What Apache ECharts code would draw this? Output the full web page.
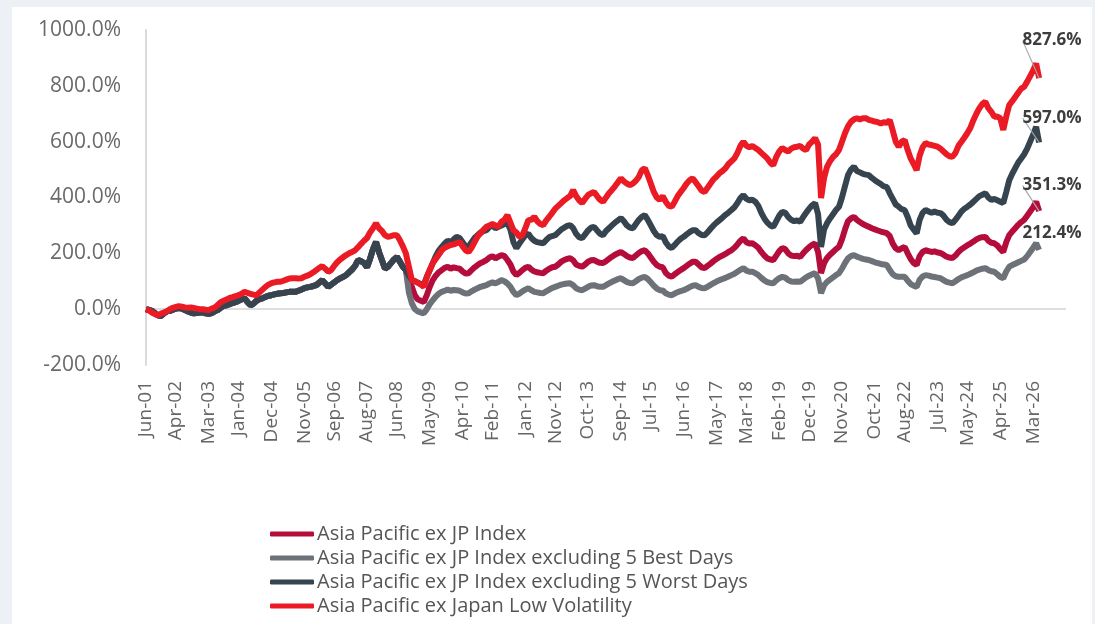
<!DOCTYPE html>
<html>
<head>
<meta charset="utf-8">
<title>Asia Pacific ex JP</title>
<script src="https://cdn.jsdelivr.net/npm/echarts@6/dist/echarts.min.js"></script>
<style>
    html, body { margin: 0; padding: 0; background: #edf0f4; }
    .panel { position: absolute; left: 12px; top: 7px; width: 1080px; height: 617px; background: #fff; }
    #chart { position: absolute; left: 0; top: 0; width: 1095px; height: 624px; }
</style>
</head>
<body>
<div class="panel"></div>
<div id="chart"></div>
<script>
    // x tick labels shown under the axis
    var tickLabels = ['Jun-01', 'Apr-02', 'Mar-03', 'Jan-04', 'Dec-04', 'Nov-05', 'Sep-06', 'Aug-07', 'Jun-08',
        'May-09', 'Apr-10', 'Feb-11', 'Jan-12', 'Nov-12', 'Oct-13', 'Sep-14', 'Jul-15', 'Jun-16', 'May-17',
        'Mar-18', 'Feb-19', 'Dec-19', 'Nov-20', 'Oct-21', 'Aug-22', 'Jul-23', 'May-24', 'Apr-25', 'Mar-26']

    // monthly categories Jun-01 ... (axis runs a bit past the last value)
    var monthNames = ['Jan', 'Feb', 'Mar', 'Apr', 'May', 'Jun', 'Jul', 'Aug', 'Sep', 'Oct', 'Nov', 'Dec']
    var categories = []
    for (var k = 0; k < 309; k++) {
        var mm = (5 + k) % 12
        var yy = 1 + Math.floor((5 + k) / 12)
        categories.push(monthNames[mm] + '-' + (yy < 10 ? '0' + yy : '' + yy))
    }

    var seriesNames = ['Asia Pacific ex JP Index', 'Asia Pacific ex JP Index excluding 5 Best Days',
        'Asia Pacific ex JP Index excluding 5 Worst Days', 'Asia Pacific ex Japan Low Volatility']

    var apIndex = [
        0, -3, -6, -15, -22, -25, -15, -8, -6, -2,
        2, 4, 2, -3, -8, -12, -15, -14, -12, -12,
        -15, -17, -14, -8, -3, 5, 12, 14, 18, 22,
        25, 30, 35, 39, 25, 14, 20, 30, 36, 39,
        44, 48, 50, 53, 55, 57, 58, 60, 62, 62,
        62, 66, 70, 75, 78, 80, 83, 86, 95, 104,
        92, 80, 88, 96, 104, 110, 116, 122, 132, 142,
        155, 176, 172, 165, 150, 180, 215, 241, 205, 175,
        145, 152, 165, 178, 187, 170, 152, 140, 95, 80,
        50, 35, 30, 26, 50, 80, 104, 120, 132, 140,
        148, 152, 145, 150, 147, 145, 135, 128, 129, 140,
        150, 158, 165, 170, 176, 185, 190, 182, 188, 194,
        190, 176, 160, 135, 122, 130, 140, 148, 152, 142,
        135, 132, 130, 129, 138, 145, 150, 152, 160, 170,
        176, 180, 183, 175, 160, 155, 152, 160, 170, 175,
        176, 170, 166, 165, 172, 180, 188, 195, 200, 205,
        198, 190, 185, 183, 192, 201, 208, 211, 200, 185,
        170, 158, 152, 150, 130, 120, 116, 125, 133, 140,
        147, 155, 163, 170, 170, 160, 150, 147, 155, 163,
        172, 180, 187, 192, 198, 205, 211, 220, 232, 245,
        254, 240, 235, 236, 229, 220, 205, 192, 182, 178,
        176, 192, 208, 219, 215, 200, 192, 190, 191, 187,
        200, 212, 222, 230, 236, 205, 129, 165, 183, 195,
        205, 215, 223, 250, 285, 315, 325, 331, 320, 312,
        305, 300, 295, 290, 286, 282, 278, 275, 272, 262,
        235, 218, 211, 218, 223, 200, 180, 165, 158, 190,
        205, 211, 208, 205, 207, 203, 201, 195, 188, 185,
        183, 192, 205, 215, 222, 229, 235, 242, 250, 255,
        258, 259, 245, 238, 236, 228, 215, 205, 240, 265,
        278, 290, 302, 312, 320, 335, 350, 365, 385, 351.3
    ]

    var apExBest = [
        0, -3, -6, -15, -22, -25, -15, -8, -6, -2,
        2, 4, 2, -3, -8, -12, -15, -14, -12, -12,
        -15, -17, -14, -8, -3, 5, 12, 14, 18, 22,
        25, 30, 35, 39, 25, 14, 20, 30, 36, 39,
        44, 48, 50, 53, 55, 57, 58, 60, 62, 62,
        62, 66, 70, 75, 78, 80, 83, 86, 95, 104,
        92, 80, 88, 96, 104, 110, 116, 122, 132, 142,
        155, 176, 172, 165, 150, 180, 215, 241, 205, 175,
        145, 152, 165, 178, 187, 170, 152, 140, 60, 21,
        0, -8, -12, -15, 0, 18, 32, 45, 55, 62,
        66, 70, 66, 69, 68, 66, 60, 56, 57, 64,
        70, 75, 80, 83, 86, 92, 96, 92, 98, 104,
        100, 92, 80, 62, 50, 56, 64, 70, 75, 68,
        62, 60, 58, 57, 64, 70, 76, 80, 84, 88,
        90, 92, 93, 86, 75, 70, 68, 74, 80, 85,
        86, 82, 80, 80, 86, 92, 98, 103, 108, 111,
        104, 97, 94, 93, 100, 108, 113, 116, 108, 96,
        84, 74, 68, 67, 57, 52, 50, 56, 61, 65,
        68, 73, 79, 84, 86, 80, 76, 75, 80, 87,
        93, 99, 104, 108, 112, 117, 122, 127, 134, 141,
        147, 138, 134, 134, 129, 122, 112, 103, 97, 94,
        93, 103, 111, 116, 113, 104, 99, 98, 99, 98,
        106, 114, 120, 125, 129, 110, 57, 85, 98, 106,
        114, 122, 129, 145, 165, 182, 190, 194, 188, 184,
        180, 178, 176, 172, 168, 165, 162, 160, 158, 140,
        125, 118, 116, 116, 116, 102, 90, 84, 80, 105,
        117, 122, 120, 117, 115, 113, 111, 104, 98, 95,
        93, 100, 108, 114, 118, 122, 127, 132, 138, 142,
        145, 147, 140, 136, 134, 125, 115, 111, 135, 152,
        158, 163, 168, 173, 178, 190, 205, 220, 236, 212.4
    ]

    var apExWorst = [
        0, -3, -6, -15, -22, -25, -15, -8, -6, -2,
        2, 4, 2, -3, -8, -12, -15, -14, -12, -12,
        -15, -17, -14, -8, -3, 5, 12, 14, 18, 22,
        25, 30, 35, 39, 25, 14, 20, 30, 36, 39,
        44, 48, 50, 53, 55, 57, 58, 60, 62, 62,
        62, 66, 70, 75, 78, 80, 83, 86, 95, 104,
        92, 80, 88, 96, 104, 110, 116, 122, 132, 142,
        155, 176, 172, 165, 150, 180, 215, 241, 205, 175,
        145, 152, 165, 178, 187, 170, 152, 140, 120, 105,
        100, 95, 90, 88, 115, 140, 165, 190, 210, 223,
        235, 245, 240, 250, 259, 255, 240, 225, 223, 240,
        255, 265, 275, 280, 283, 295, 300, 290, 295, 300,
        305, 308, 285, 240, 219, 235, 250, 265, 270, 255,
        245, 240, 238, 236, 248, 258, 262, 265, 275, 285,
        292, 298, 301, 290, 270, 258, 254, 268, 282, 292,
        295, 282, 270, 265, 280, 290, 300, 310, 318, 326,
        315, 300, 292, 290, 305, 320, 331, 337, 320, 300,
        280, 265, 259, 262, 240, 225, 219, 230, 242, 252,
        259, 268, 276, 283, 283, 272, 266, 265, 275, 288,
        300, 310, 319, 328, 338, 346, 355, 365, 380, 398,
        409, 395, 390, 392, 385, 370, 345, 325, 310, 300,
        295, 315, 335, 349, 345, 330, 320, 315, 318, 313,
        330, 345, 360, 372, 380, 340, 223, 285, 308, 325,
        340, 355, 367, 400, 440, 480, 500, 510, 495, 490,
        485, 482, 480, 470, 462, 455, 448, 440, 438, 415,
        395, 375, 367, 358, 355, 330, 300, 285, 272, 320,
        345, 355, 350, 345, 350, 345, 344, 335, 320, 312,
        308, 320, 335, 350, 360, 367, 375, 385, 395, 405,
        410, 415, 400, 391, 395, 390, 385, 380, 420, 462,
        485, 505, 525, 540, 555, 575, 600, 625, 653, 597.0
    ]

    var lowVol = [
        0, -5, -12, -18, -22, -16, -12, -8, 0, 5,
        8, 11, 9, 6, 5, 6, 4, 2, 0, 0,
        -2, -3, 2, 6, 15, 25, 30, 35, 40, 43,
        47, 50, 55, 62, 58, 55, 52, 50, 60, 70,
        80, 88, 93, 96, 98, 98, 102, 106, 110, 111,
        111, 110, 111, 116, 120, 125, 132, 140, 148, 154,
        145, 134, 140, 155, 168, 178, 186, 194, 200, 205,
        211, 222, 234, 245, 255, 275, 290, 308, 290, 280,
        265, 259, 262, 265, 265, 247, 225, 200, 152, 104,
        100, 95, 88, 80, 116, 140, 165, 180, 195, 211,
        220, 225, 230, 232, 236, 241, 225, 211, 205, 220,
        240, 260, 272, 285, 295, 300, 305, 300, 295, 313,
        320, 337, 310, 283, 275, 259, 265, 290, 319, 320,
        331, 315, 305, 301, 318, 331, 345, 360, 370, 380,
        390, 398, 405, 427, 405, 390, 380, 395, 409, 415,
        420, 405, 392, 385, 400, 415, 427, 440, 455, 469,
        458, 450, 444, 450, 460, 474, 498, 505, 480, 450,
        420, 400, 391, 405, 385, 370, 367, 385, 405, 420,
        434, 450, 462, 469, 455, 440, 425, 420, 435, 450,
        465, 475, 487, 495, 505, 520, 530, 540, 560, 585,
        600, 585, 580, 585, 577, 570, 560, 550, 540, 525,
        516, 545, 565, 577, 570, 565, 575, 580, 582, 585,
        575, 570, 590, 600, 613, 590, 398, 470, 510, 530,
        545, 555, 570, 600, 630, 655, 671, 680, 684, 680,
        684, 684, 678, 675, 672, 670, 665, 670, 667, 677,
        640, 600, 582, 600, 606, 570, 540, 520, 498, 550,
        580, 595, 590, 588, 585, 582, 575, 565, 555, 548,
        546, 560, 585, 600, 615, 631, 650, 677, 700, 720,
        735, 743, 720, 707, 689, 690, 684, 642, 690, 731,
        745, 760, 775, 790, 797, 815, 835, 855, 880, 827.6
    ]

    var font = '"Open Sans", "Noto Sans", sans-serif'

    function makeSeries(name, values, color, dx, dy, guide) {
        var last = values.length - 1
        return {
            name: name,
            type: 'line',
            data: values.map(function (v, i) {
                return i === last ? { value: v, label: { show: true } } : v
            }),
            showSymbol: true,
            showAllSymbol: true,
            symbol: 'circle',
            symbolSize: 0,
            silent: true,
            animation: false,
            lineStyle: { color: color, width: 6 },
            itemStyle: { color: color },
            label: {
                show: false,
                position: 'top',
                distance: 4,
                formatter: function (p) { return p.value.toFixed(1) + '%' },
                fontFamily: font,
                fontWeight: 'bold',
                fontSize: 17,
                color: '#3d3d3d'
            },
            labelLine: { show: guide, lineStyle: { color: '#a8a8a8', width: 1.2 } },
            labelLayout: function (p) {
                return p.dataIndex === last ? { dx: dx, dy: dy } : {}
            },
            emphasis: { disabled: true }
        }
    }

    var myChart = echarts.init(document.getElementById('chart'))
    var option = {
        animation: false,
        grid: { left: 146, right: 29, top: 30, bottom: 259, containLabel: false },
        legend: {
            orient: 'vertical',
            left: 265,
            top: 519,
            icon: 'roundRect',
            itemWidth: 44,
            itemHeight: 5,
            itemGap: 4,
            data: seriesNames,
            textStyle: { fontFamily: font, fontSize: 20, color: '#555', padding: [0, 0, 0, -2] }
        },
        xAxis: {
            type: 'category',
            boundaryGap: false,
            data: categories,
            axisLine: { show: false },
            axisTick: { show: false },
            splitLine: { show: false },
            axisLabel: {
                rotate: 90,
                margin: 16,
                fontFamily: font,
                fontSize: 19,
                color: '#666',
                interval: function (i, value) { return tickLabels.indexOf(value) >= 0 }
            }
        },
        yAxis: {
            type: 'value',
            min: -200,
            max: 1000,
            interval: 200,
            axisLine: { show: true, lineStyle: { color: '#dadada', width: 2 } },
            axisTick: { show: false },
            splitLine: {
                show: true,
                // only the 0% line is drawn
                lineStyle: { color: ['transparent', '#dedede', 'transparent', 'transparent', 'transparent', 'transparent', 'transparent'], width: 2 }
            },
            axisLabel: {
                margin: 25,
                fontFamily: font,
                fontSize: 21,
                color: '#6a6a6a',
                formatter: function (v) { return v.toFixed(1) + '%' }
            }
        },
        series: [
            makeSeries(seriesNames[0], apIndex, '#b50d3b', 13, -13, true),
            makeSeries(seriesNames[1], apExBest, '#6c7277', 13, -4, false),
            makeSeries(seriesNames[2], apExWorst, '#36444f', 13, -12, true),
            makeSeries(seriesNames[3], lowVol, '#ea1b24', 13, -25, true)
        ]
    }
    myChart.setOption(option)
</script>
</body>
</html>
